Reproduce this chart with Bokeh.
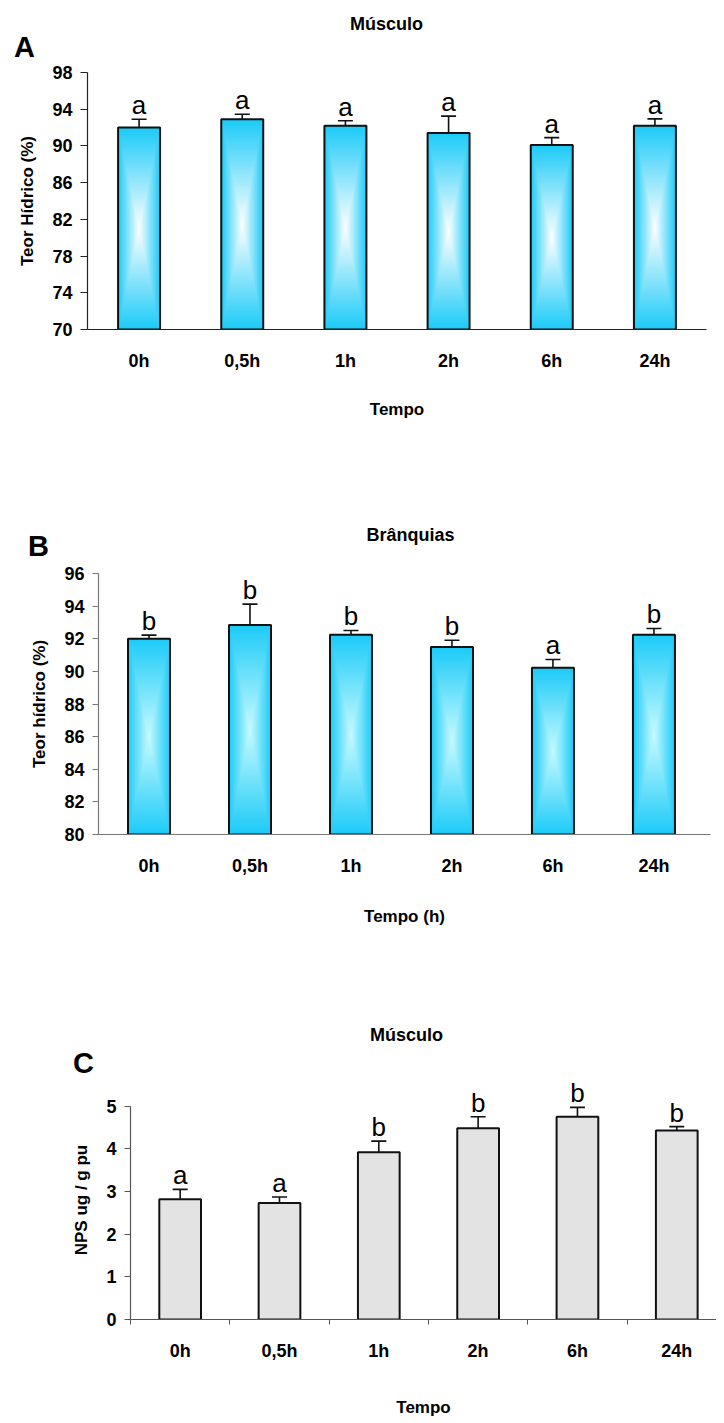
from bokeh.plotting import figure
from bokeh.models import (ColumnDataSource, Whisker, TeeHead, LabelSet, Label,
                          FixedTicker, Range1d)
from bokeh.core.properties import value
from bokeh.embed import file_html
from bokeh.resources import INLINE

# ---------------- data ----------------
categories = ["0h", "0,5h", "1h", "2h", "6h", "24h"]

a_values = [92.0, 92.9, 92.2, 91.4, 90.1, 92.2]
a_errors = [0.9, 0.55, 0.55, 1.85, 0.8, 0.75]
a_letters = ["a", "a", "a", "a", "a", "a"]

b_values = [92.0, 92.85, 92.24, 91.5, 90.22, 92.24]
b_errors = [0.22, 1.27, 0.27, 0.41, 0.51, 0.39]
b_letters = ["b", "b", "b", "b", "a", "b"]

c_values = [2.82, 2.73, 3.92, 4.48, 4.75, 4.43]
c_errors = [0.23, 0.14, 0.26, 0.27, 0.22, 0.09]
c_letters = ["a", "a", "b", "b", "b", "b"]

a_ticks = [70, 74, 78, 82, 86, 90, 94, 98]
b_ticks = [80, 82, 84, 86, 88, 90, 92, 94, 96]
c_ticks = [0, 1, 2, 3, 4, 5]

FONT = "Liberation Sans"


def hex_to_rgb(h):
    h = h.lstrip("#")
    return tuple(int(h[i:i + 2], 16) for i in (0, 2, 4))


def lerp(c1, c2, t):
    a, b = hex_to_rgb(c1), hex_to_rgb(c2)
    return "#%02x%02x%02x" % tuple(int(round(a[i] + (b[i] - a[i]) * t)) for i in range(3))


def gradient_bars(p, xs, base, tops, width, edge, center, levels=40):
    mids = [(base + v) / 2.0 for v in tops]
    halves = [(v - base) / 2.0 for v in tops]
    for k in range(levels):
        t = k / float(levels)
        s = 1.0 - t
        p.vbar(x=xs, width=width * s,
               bottom=[m - h * s for m, h in zip(mids, halves)],
               top=[m + h * s for m, h in zip(mids, halves)],
               fill_color=lerp(edge, center, t), line_color=None)
    p.vbar(x=xs, width=width, bottom=base, top=tops, fill_color=None,
           line_color="#111111", line_width=2)


def style_axes(p, axis_color):
    p.xgrid.visible = False
    p.ygrid.visible = False
    p.outline_line_color = None
    for ax in (p.xaxis[0], p.yaxis[0]):
        ax.axis_line_color = axis_color
        ax.axis_line_width = 1.2
        ax.major_tick_line_color = axis_color
        ax.minor_tick_line_color = axis_color
        ax.major_label_text_font = FONT
        ax.major_label_text_font_style = "bold"
        ax.major_label_text_font_size = "18px"
        ax.major_label_text_color = "black"
        ax.axis_label_text_font = FONT
        ax.axis_label_text_font_style = "bold"
        ax.axis_label_text_font_size = "17px"
        ax.axis_label_text_color = "black"
    p.yaxis[0].major_tick_in = 0
    p.yaxis[0].major_tick_out = 7
    p.yaxis[0].minor_tick_out = 0
    p.yaxis[0].minor_tick_in = 0
    p.yaxis[0].major_label_standoff = 8
    p.yaxis[0].axis_label_standoff = 12


def error_and_letters(p, xs, vals, errs, letters):
    tops = [v + e for v, e in zip(vals, errs)]
    src = ColumnDataSource(dict(x=xs, upper=tops, lower=vals, txt=letters))
    w = Whisker(source=src, base="x", upper="upper", lower="lower", dimension="height",
                line_color="#111111", line_width=1.6,
                upper_head=TeeHead(size=15, line_color="#111111", line_width=1.6),
                lower_head=None)
    p.add_layout(w)
    ls = LabelSet(source=src, x="x", y="upper", text="txt", text_align="center",
                  text_baseline="alphabetic", y_offset=5, text_font=value(FONT),
                  text_font_size=value("26px"), text_color="black")
    p.add_layout(ls)


def add_heading(p, frame, letter, letter_xy, title, title_xy):
    # frame = (left_px, top_px, px_per_x, px_per_y, x_start, y_end): convert page pixels
    left, top, kx, ky, x0, y1 = frame

    def to_data(px, py):
        return x0 + (px - left) / kx, y1 + (top - py) / ky

    lx, ly = to_data(*letter_xy)
    tx, ty = to_data(*title_xy)
    p.add_layout(Label(x=lx, y=ly, text=letter, text_align="center", text_baseline="middle",
                       text_font=FONT, text_font_size="29px", text_font_style="bold",
                       text_color="black"), "above")
    p.add_layout(Label(x=tx, y=ty, text=title, text_align="center", text_baseline="middle",
                       text_font=FONT, text_font_size="18px", text_font_style="bold",
                       text_color="black"), "above")


xs = [i + 0.5 for i in range(len(categories))]
overrides = {x: c for x, c in zip(xs, categories)}

# ---------------- Panel A ----------------
pa = figure(width=716, height=478, x_range=Range1d(0, 6.0), y_range=Range1d(70, 98),
            output_backend="svg", toolbar_location=None, title=None,
            min_border_left=87, min_border_right=10, min_border_top=72, min_border_bottom=149,
            x_axis_label="Tempo", y_axis_label="Teor Hídrico (%)")
style_axes(pa, "#222222")
pa.xaxis[0].ticker = FixedTicker(ticks=xs)
pa.xaxis[0].major_label_overrides = overrides
pa.xaxis[0].major_tick_out = 0
pa.xaxis[0].major_tick_in = 0
pa.xaxis[0].minor_tick_out = 0
pa.xaxis[0].major_label_standoff = 21
pa.xaxis[0].axis_label_standoff = 26
pa.yaxis[0].ticker = FixedTicker(ticks=a_ticks)
gradient_bars(pa, xs, 70, a_values, 0.407, "#1ecbf8", "#ffffff")
error_and_letters(pa, xs, a_values, a_errors, a_letters)
add_heading(pa, (87, 72, 619 / 6.0, 257 / 28.0, 0, 98), "A", (24, 46), "Músculo", (386, 23))

# ---------------- Panel B ----------------
pb = figure(width=716, height=512, x_range=Range1d(0, 6.06), y_range=Range1d(80, 96),
            output_backend="svg", toolbar_location=None, title=None,
            min_border_left=98, min_border_right=6, min_border_top=95, min_border_bottom=156,
            x_axis_label="Tempo (h)", y_axis_label="Teor hídrico (%)")
style_axes(pb, "#777777")
pb.xaxis[0].ticker = FixedTicker(ticks=xs)
pb.xaxis[0].major_label_overrides = overrides
pb.xaxis[0].major_tick_out = 0
pb.xaxis[0].major_tick_in = 0
pb.xaxis[0].minor_tick_out = 0
pb.xaxis[0].major_label_standoff = 21
pb.xaxis[0].axis_label_standoff = 28
pb.yaxis[0].ticker = FixedTicker(ticks=b_ticks)
pb.yaxis[0].major_tick_out = 6
gradient_bars(pb, xs, 80, b_values, 0.416, "#1ecbf8", "#c8faff")
error_and_letters(pb, xs, b_values, b_errors, b_letters)
add_heading(pb, (98, 95, 612 / 6.06, 261 / 16.0, 0, 96), "B", (38, 545 - 478), "Brânquias", (410, 534 - 478))

# ---------------- Panel C ----------------
pc = figure(width=716, height=429, x_range=Range1d(0, 5.90), y_range=Range1d(0, 5.6),
            output_backend="svg", toolbar_location=None, title=None,
            min_border_left=130, min_border_right=0, min_border_top=90, min_border_bottom=97,
            x_axis_label="Tempo", y_axis_label="NPS ug / g pu")
style_axes(pc, "#555555")
pc.xaxis[0].ticker = FixedTicker(ticks=xs, minor_ticks=list(range(len(categories) + 1)))
pc.xaxis[0].major_label_overrides = overrides
pc.xaxis[0].major_tick_out = 0
pc.xaxis[0].major_tick_in = 0
pc.xaxis[0].minor_tick_in = 0
pc.xaxis[0].minor_tick_out = 5
pc.xaxis[0].major_label_standoff = 16
pc.xaxis[0].axis_label_standoff = 34
pc.yaxis[0].ticker = FixedTicker(ticks=c_ticks)
pc.yaxis[0].bounds = (0, 5)
pc.yaxis[0].major_tick_out = 6
pc.vbar(x=xs, width=0.42, bottom=0, top=c_values, fill_color="#e3e3e3",
        hatch_pattern="v_line", hatch_color="#c6c6c6", hatch_scale=2.5, hatch_weight=0.8,
        line_color="#111111", line_width=2)
error_and_letters(pc, xs, c_values, c_errors, c_letters)
add_heading(pc, (130, 90, 586 / 5.9, 242 / 5.6, 0, 5.6), "C", (83, 1062 - 990), "Músculo", (406, 1034 - 990))

open("out.html", "w").write(file_html([pa, pb, pc], INLINE))
